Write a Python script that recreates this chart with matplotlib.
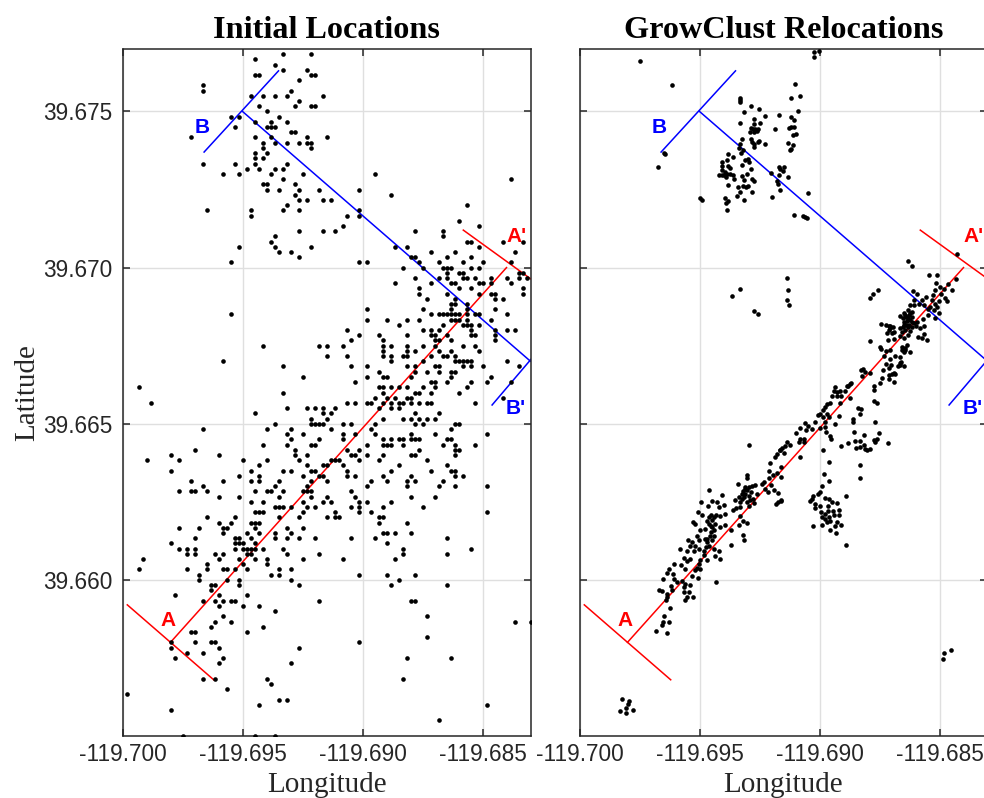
import numpy as np
import matplotlib
matplotlib.use('Agg')
import matplotlib.pyplot as plt

# the initial catalog sits on a grid of 1/6000 degree, so it is kept as grid steps
# east of -119.700 and north of 39.660, one list of longitudes per latitude row
STEP = 1.0 / 6000.0
LON0 = -119.700
LAT0 = 39.660

init_rows = [101,100,99,98,97,96,95,94,93,92,91,90,89,88,87,86,85,84,83,82,81,80,79,78,77,76,75,74,73,72,71,70,69,68,67,66,65,64,63,62,61,60,
             59,58,57,56,55,54,53,52,51,50,49,48,47,46,45,44,43,42,41,40,39,38,37,36,35,34,33,32,31,30,29,28,27,26,25,24,23,22,21,20,
             19,18,17,16,15,14,13,12,11,10,9,8,7,6,5,4,3,2,1,0,-1,-2,-3,-4,-5,-6,-7,-8,-9,-10,-11,-12,-13,-14,-15,-16,-19,-20,-21,-22,-23,-24,-25,-27,-30]
init_cols = [
    [40,47],[33],[38],[40,46],[33,34,47,48],[44],[20],[20,42],[32,35,38,41,50],[44],
    [34,43,47,48],[36],[27,29,39],[33,37,41],[28,36,37,38],[42,43],[17,33,37,46,51],[35,38,41,44,46,47],[35,47],[33,36],
    [33,35],[20,28,33,41],[31,34,38,40],[25,29,37,45,63],[40,97],[35,36,43],[36,39,44,49,59],[43,67],[44,46,50,52],[41,86],
    [21,32,40,44,59],[32,56,59],[84],[55,89],[44,50,53,73,80],[38,80],[37,86,87,95,100],[29,38,47,68,71,89],[39,42,77,83,98],[44,72,73,81,87],
    [27,59,61,74,79,85,90,97],[70,75,80,81,82,87,89],
    [81,84,85,99,100],[73,79,81,85,86,88,92,96,99,101],[68,77,82,83,89,90,92,97],[74,84,87,100],[74,81,89,92,93,100],[76,83,93,95],[82,83,86],[61,75,82,86,93],
    [27,77,79,80,81,82,83,84,86,88,89,96],[61,66,71,74,82,83,84,86,92],[69,80,85,86,87,89],[56,75,77,79,87,93,96,98],[59,64,71,77,78,81,87,88,93],[57,65,78,79,82,93],
    [35,49,51,55,65,67,71,75,78,85,88],[65,71,73,79,82,89],[51,56,65,67,70,71,77,80,81,83],[25,67,75,83,84,85,86,87,96],
    [40,57,61,71,73,78,79,85,87,90,99],[64,73,76,79,82,83],[45,61,65,66,72,82,92],[58,77,78,81,87,91,97],[4,64,65,67,69,71,75,78,86],[40,65,73,74,77,84],
    [63,66,68,71,72,95],[7,56,58,61,62,65,67,69,70,72,74,76,77,88],[41,46,48,50,53,64,67,69],[33,50,52,73,79],[47,51,65,70,72,74,76,78],[38,47,48,49,50,55,57,63,73,75,83,84],
    [20,36,42,52,62,82],[41,45,55,58,63,72,78,91],[42,49,55,65,67,69,70,72,73,74,81,82],[35,41,47,48,61,65,66,67,70,80,83,88],[18,43,56,59,74,83,84],[12,24,43,46,57,58,61,65,72,73,83],
    [6,14,30,36,44,52,53,54,59,64,76],[34,46,50,51,55,69,81],[12,32,40,42,47,48,56,67,77,82,83],[29,34,45,49,50,56,58,65,72,83,85],
    [17,25,32,34,39,47,51,62,66,71,73,80],[20,38,46,61,71,79,83,91],[14,17,18,21,33,36,37,40,45,46,47,57],[24,29,39,47,51,58,72,78],[32,35,45,50,52,59,61,67],[38,39,40,42,46,48,57,59,65,75],
    [33,34,35,45,53,59,62,91],[21,28,39,44,51,53,54,64,65],[24,27,32,33,34,64,71],[14,19,25,26,33,41,45],[25,31,34,38,42,65,66,68,72],[18,28,29,32,38,41,44,48,57,63,81],
    [12,28,29,30,33,66],[14,16,18,28,30,31,32,33,35,40,70,87],[16,18,23,25,31,32,41,49,70,81],[5,24,29,33,36,45,55,68],[21,30,36],[4,16,21,25,26,28,31,39,42],[19,37,39,59,66,73],[19,26,29,42,69],
    [22,23,29,44,67,81],[22],[13,24,31],[20,23,25,27,28,49,72,73],[24,30,34],[38],[25,76],[23,27,98,102],[22,35],[17,18,31],[76],[12,18,22,23,59],[12,24,44],[16,20],[13,25,71,82],[24,42],
    [20,23,36,70],[37],[26],[1],[39,41],[34,91],[12],[79],[15,33,38],
]

# relocated events, (east, north) in the same steps
reloc_north = [(23.2,95),(21.2,82),(21.3,81.8),(19.6,79.4),(30,73.3),(30.6,73),(15.2,99.6),(58.5,101.5),(59.8,101.7),(58.6,100.4),(53.8,95.2),(52.9,92.6),(55,93),
    (40.2,92.6),(40,92.2),(40.2,91.8),(42.9,91),(44.8,90.4),(41,89.8),(46.4,89.2),(49.8,89.3),(54.5,90),(52.8,89),(53.7,88.3),(40,87.8),(43.7,88.5),(43.7,87.6),(45,87.8),(48.8,86.7),
    (42.8,86.8),(43.3,86.7),(43.9,86.7),(44.5,86.7),(42.7,86),(43.5,86),(44.3,86.3),(52.3,86.8),(52.8,87),(53.5,87.1),(53.3,85.5),(54.2,85.6),(40.6,84.7),(42.9,84.7),(43.1,84.1),(43.5,83.8),
    (44.5,84.1),(44.8,84.4),(43.5,83.1),(46.3,83.8),(52,84),(53.3,83.6),(52.9,82.8),(52.7,82.6),(40.2,83.8),(39.8,82.9),(40.8,82.6),(40.3,82.1),(37,81.9),(38.3,81.3),(36.8,80.7),(41.3,80.7),
    (42.3,80.3),(42,80.9),(35.6,80.3),(35.6,79.6),(37,79.6),(37.5,79.2),(40.5,79.7),(42.9,78.9),(37.7,78),(35.6,78.8),(36.4,78.3),(36,77.8),(36.8,78),(34.8,77.7),(35.6,77.7),(36.7,77.4),
    (38.3,77.7),(38.5,77.1),(40.5,77.6),(41.2,76.9),(41.8,78),(43.1,77.1),(43.7,76.7),(37.1,75.8),(39.5,75.4),(40.8,75.6),(42.2,75.7),(41.6,75.4),(40.2,74.5),(39.3,73.7),(43,74.5),(41.2,73),
    (36.3,73.4),(37.1,72.8),(36.7,72.4),(36.8,71.1),(47.8,78.2),(49.8,79.4),(51,79.3),(50.8,78.5),(49.8,77.8),(52.1,77.4),(50.2,79),(49.3,76.7),(49.5,76.1),(50.2,74.9),(48.2,73.5),(57,74.3),
    (53.7,70.2),(55.8,69.9),(56.3,69.7),(56.8,69.6)]
reloc_scattered = [(38,54.6),(40.2,55.8),(43.5,51.7),(44.5,51),(51.8,58),(52,55.6),(51.8,53.8),(52.3,52.9),(90.8,-15.2),(91.2,-14),(92.8,-13.5),
    (10.5,-22.9),(12.4,-23.3),(12.2,-23.9),(11.6,-24.6),(13.4,-25),(10,-25.2),(11.5,-25.5)]
reloc_ne = [(94.4,62.6),(82.1,61.3),(83.1,60.4),(87.3,58.5),(89.3,58.5),(89,57.1),(94.2,57.8),(92,56.8),(74.5,55.7),(73.3,54.9),(72.7,54.2),(83.3,55.5),(84.3,54.9),
    (90.2,56.3),(88.9,55.6),(91.2,55.8),(90.3,55),(93.2,55.6),(88.3,54.7),(91.4,54.1),(91.8,53.6),(89.8,53.5),(86.7,54.3),(85.6,53.8),(84.8,53.1),(83.7,53.7),(83.5,52.8),(86,52.8),
    (88.1,53.8),(88.9,53.1),(87.7,52.5),(89.3,52.5),(88.5,51.9),(89.8,51.3),(88.9,50.3),(87,52),(85.8,50.2),(87,50.9),(82.7,52.8),(82,51.9),(82.7,51.2),(81.4,50.9),(80.2,50.7),(80.8,50.3),
    (82,50.3),(83.1,50.6),(81.8,49.7),(81,49),(82.4,49),(83.5,49.3),(80.2,48.3),(81.4,48.1),(82.7,47.9),(84,48.7),(85,48.3),(82,47.1),(86,48.7),(86.2,47.3),(84.7,46.6),(85.5,46.5),(86.8,46),
    (82.3,50.9),(81.7,49),(80.6,47.7),(82.5,49.9),(83.1,49.6),(84.3,49.6),(75.4,49.2),(76.7,49),(77.7,48.8),(78.3,48.5),(77.3,48),(78.7,47.7),(76.8,47.5),(78.1,47.4),(77,46),(78.7,46.2),(80.2,46.9),
    (72.7,45.8),(75,44.8),(75.4,44.4),(80.6,44.8),(81.4,44.5),(81.8,45.1),(82.7,43.7),(81,43.8),(80.2,42.9),(78.9,43),(77.5,44.2),(76.7,44),(76,43),(77.5,42.4),(80.4,41.9),(80.2,41.3),(79.5,41),(81,41),
    (76.7,41.5),(77.8,41.3),(77.3,40.8),(75.8,40.3),(78.5,39.8),(78.9,39.6),(77.3,39.4),(75.6,38.7),(75.2,37.9),(77.3,38.5),(78.5,38),(70.8,40.6),(70.3,40.3),(71.4,40),(70.6,39.2),(72.5,39.8),
    (67.8,37.9),(67.2,37.2),(73.5,37.2),(73.5,36.5),(73.5,34.4),(74.3,34),
    (81,51.2),(81.7,50.6),(83.1,51.5),(81.2,49.6),(82,48.5),(80.8,48.5),(83.1,48.5),(81,46.4),(81.4,44.2),(80.6,44.2),(77.7,48.3),(77.3,48.7),(80,41.6),(78.1,39.6)]
reloc_east_patch = [(69.5,33),(70.3,32.9),(70.2,31.9),(68.3,31),(68.3,30.3),(73.8,30.3),(68.7,28.4),(71.2,27.9),(74.8,28.3),(67,26.3),(65.3,25.7),(74.3,27.1),(73.5,26.8),(73.9,26.5),(77.1,26.3),
    (68.9,26.7),(70.2,26.7),(69.2,25.4),(70.2,25.6),(71.2,25.9),(71.4,25.2),(71.8,24.9),(72.7,25.2),(70.2,22.1),(70,19.6),(66.7,16.2),(66.7,6.7)]
reloc_south_patch = [(60.8,25),(62.4,22.6),(61.1,20.3),(62.3,19),(60.6,18.1),(60,16.9),(59.5,16.5),(58.3,16.2),(58.1,15.6),(57.7,15.1),(58.9,14.6),(58.9,13.8),(60.2,14.2),(61.4,15.7),(62.3,15.6),
    (63.1,14.9),(64.3,14.8),(62,14.1),(62.1,13.3),(63.3,13.3),(64.8,13.4),(60.3,13),(61.4,12.7),(60.6,12.1),(61.4,11.7),(62.3,12.1),(63.7,12.5),(64.8,12.5),(62.7,11.4),(61.8,11.1),(64.3,11.1),
    (63.9,10.4),(65.3,10.5),(60.6,10.5),(58.3,10.3),(62.7,9.5),(64,9)]
reloc_mid = [(63.8,37.1),(63.5,36.3),(64.3,36.1),(65.2,36.3),(66.3,36.3),(63.1,35.3),(64.3,35.3),(65.3,35.4),(65,34),(67.7,34.9),(67.7,37.7),(66.8,37.2),
    (62.7,34),(61.8,33.8),(61.4,33.2),(60.8,32.6),(60.2,31.9),(59.5,31.6),(60.8,31.3),(61.8,31.9),(62.3,31.3),(64.8,31.4),(63.8,29.9),(61.4,30.3),
    (56.4,30.1),(57,29.5),(56.7,28.7),(58.1,29),(58.9,30.3),(60.2,29.2),(61.4,29.4),(61.7,28.5),(62.5,27.6),(62.9,27.1),
    (54.1,28.3),(55.2,29.1),(55,27.1),(54.8,26.5),(56,27.1),(56.2,26.5),(51.8,26.5),(52.7,26),(51.4,25.8),(50.6,25.4),(50,24.9),(49.3,24.2),(48.9,23.7),(51,24.4),(50.2,24.9),
    (42.4,26),(55.2,23.6),(47.5,22.4),(50.3,21.7),(47.3,20.9),(49.3,20.5),(48.3,20.1),(47.3,19.6),(46,18.8),(50.3,19.7),(47.8,18.3),(45.6,18.5),
    (48.5,17.3),(47.1,16.9),(46.3,17.5),(49.6,16.7),(50.3,15.1),(49.5,14.9),(49.1,14.5),(50.4,15.4),(41.8,20.1),(41.8,19.6),(39.7,18.4),
    (43.9,18.3),(43.1,18.1),(42.3,17.8),(41.4,17.5),(40.8,17.1),(41.8,17.2),(41.4,16.5),(40.6,16.5),(42.3,16.2),(41.2,15.9),(39.8,15.9),(38.9,15.3),(40.2,14.9),(41.8,14.9),(43.3,15.6),(44.3,16.5),(43.5,14.7),(42.7,15.3),
    (42.3,14.1),(40.2,14),(39.2,13.8),(38.3,13.5),(40.2,12.2),(40.8,11.3),(41.8,10.9),(39.8,10.6),(37.8,9.6),(40.8,8.7),(41,7.6),(37.9,6.7),
    (42.9,16.9),(41.3,17.8),(40.6,15.6)]
reloc_sw = [(32.3,17.2),(35.7,16.3),(30.3,14.9),(33.1,15.1),(34.3,14.9),(36,14.4),(32,14.1),(34.8,14),(29.6,13),(30.6,12.4),(32.8,12.4),(34.2,12.4),(35.2,12.2),(36.4,12.7),(28.3,11.1),(28.9,10.8),
    (31.8,11.4),(33.1,11.5),(33.9,10.8),(32.8,10.4),(31.4,9.8),(33.5,9.5),(35.2,10.1),(36.4,10.6),(30.2,9.5),(29.3,8.5),(32.8,9.2),(33.5,8.5),(27.1,7.6),(28.1,7.2),(29.8,7.6),(28.9,6.6),(27.7,6.6),
    (31.4,7.9),(31.8,7.2),(33.1,7.6),(25,6),(26.8,5.6),(28.5,5.5),(29.8,6),(31.7,6.3),(31,5.5),(33.5,6),(34.8,5.5),(33.9,4.5),(35.2,4),(31,4.7),(31.8,3.8),(26,4.2),(26.8,3.7),(27.7,4),(30,3.9),
    (23.7,3.1),(25.3,2.8),(26.4,2.1),(22.3,2.1),(29.8,3.1),(29.3,2.3),(30.2,2.1),(28.9,1.8),(28.1,0.8),(29.6,0.3),(21.8,1.3),(23.3,1.2),(20.8,0.1),(23.5,0.2),(24.3,-0.4),(25.6,-0.3),(26.4,-0.8),
    (22.8,-1.1),(26,-1.4),(27.5,-0.9),(34,-0.4),(19.9,-2),(20.6,-2.2),(23.1,-1.9),(21.8,-2.7),(26,-2.4),(27.3,-2.4),(26.4,-3.8),(26.8,-3.3),(28.3,-3.3),(21.8,-3.3),(21.7,-3.8),(22.5,-5.5),(21.2,-6.9),
    (20.8,-8.1),(20.6,-8.6),(22.3,-8.1),(19.2,-9.9),(21.8,-10.3),
    (32.3,12),(33.5,12),(32.3,10.8),(33.1,10.1),(32.7,8.5),(31.8,7.9),(32.3,6.6)]

# cross sections, lon then lat
sec_a_lon = [-119.698, -119.684]
sec_a_lat = [39.658, 39.670]
sec_a0_lon = [-119.6998, -119.6962]
sec_a0_lat = [39.6592, 39.6568]
sec_a1_lon = [-119.6858, -119.6822]
sec_a1_lat = [39.6712, 39.6692]
sec_b_lon = [-119.695, -119.683]
sec_b_lat = [39.675, 39.667]
sec_b0_lon = [-119.6966, -119.6935]
sec_b0_lat = [39.6737, 39.6763]
sec_b1_lon = [-119.6846, -119.6815]
sec_b1_lat = [39.6656, 39.6684]

lon_ticks = [-119.700, -119.695, -119.690, -119.685]
lat_ticks = [39.660, 39.665, 39.670, 39.675]
lon_labels = ['-119.700', '-119.695', '-119.690', '-119.685']
lat_labels = ['39.660', '39.665', '39.670', '39.675']

init_lon = LON0 + STEP * np.concatenate([np.array(c, dtype=float) for c in init_cols])
init_lat = LAT0 + STEP * np.repeat(init_rows, [len(c) for c in init_cols])

reloc = np.array(reloc_north + reloc_scattered + reloc_ne + reloc_east_patch + reloc_south_patch + reloc_mid + reloc_sw)
reloc_lon = LON0 + STEP * reloc[:, 0]
reloc_lat = LAT0 + STEP * reloc[:, 1]

W, H = 984.0, 798.0
DARK = '#262626'
SANS = 'Liberation Sans'
SERIF = 'Liberation Serif'


def panel(left, lon, lat, title, show_lat):
    ax = fig.add_axes([left / W, 1 - 736 / H, 408 / W, 687 / H])
    ax.set_xlim(-119.700, -119.683)
    ax.set_ylim(39.655, 39.677)
    ax.grid(True, color='#dfdfdf', lw=1)
    ax.set_axisbelow(True)
    ax.set_xticks(lon_ticks)
    ax.set_xticklabels(lon_labels, family=SANS, fontsize=16.3, color=DARK)
    ax.set_yticks(lat_ticks)
    ax.set_yticklabels(lat_labels if show_lat else [], family=SANS, fontsize=16.3, color=DARK)
    ax.tick_params(direction='in', length=5, width=1.1, color=DARK, top=True, right=True)
    ax.tick_params(axis='y', pad=7.5)
    ax.tick_params(axis='x', pad=5)
    for s in ax.spines.values():
        s.set_color(DARK)
        s.set_linewidth(1.1)

    ax.plot(sec_a_lon, sec_a_lat, color='red', lw=1.1)
    ax.plot(sec_a0_lon, sec_a0_lat, color='red', lw=1.1)
    ax.plot(sec_a1_lon, sec_a1_lat, color='red', lw=1.1)
    ax.plot(sec_b_lon, sec_b_lat, color='blue', lw=1.1)
    ax.plot(sec_b0_lon, sec_b0_lat, color='blue', lw=1.1)
    ax.plot(sec_b1_lon, sec_b1_lat, color='blue', lw=1.1)
    ax.scatter(lon, lat, s=11, c='black', linewidths=0, zorder=3)

    for s, x, y, c in [('A', -119.6981, 39.6587, 'red'), ("A'", -119.6836, 39.67098, 'red'),
                       ('B', -119.6967, 39.6745, 'blue'), ("B'", -119.6836, 39.6655, 'blue')]:
        ax.text(x, y, s, color=c, family=SANS, weight='bold', fontsize=15, ha='center', va='center', zorder=4)

    ax.set_title(title, family=SERIF, weight='bold', fontsize=23.2, color='black', pad=8)
    ax.set_xlabel('Longitude', family=SERIF, fontsize=21, color=DARK, labelpad=4)
    if show_lat:
        ax.set_ylabel('Latitude', family=SERIF, fontsize=21, color=DARK, labelpad=2)
    return ax


fig = plt.figure(figsize=(W / 100, H / 100), dpi=100)
panel(122.5, init_lon, init_lat, 'Initial Locations', True)
panel(579.5, reloc_lon, reloc_lat, 'GrowClust Relocations', False)
fig.savefig('out.png', dpi=100)
